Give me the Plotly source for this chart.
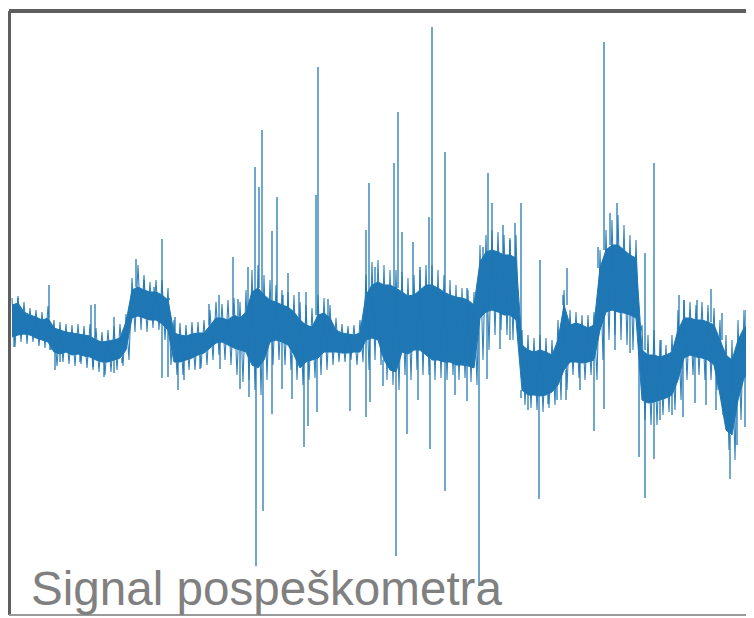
import plotly.graph_objects as go

# Accelerometer signal, arbitrary units; sample index n (core samples every 6)
core_step = 6
core_hi = [15, 17, 8, 5, 3, 0, 2, -8, -10, -12, -13, -14, -15, -16, -20, -22, -21, -20, -18, -2,
           30, 33, 30, 28, 28, 25, 20, -13, -15, -16, -14, -13, -13, -5, 2, 2, 0, 5, 2, 8,
           28, 32, 25, 20, 18, 15, 13, 8, 0, -5, -7, 5, 7, 2, -10, -13, -14, -15, -13, 25,
           35, 38, 35, 35, 32, 28, 24, 25, 30, 35, 35, 32, 28, 25, 23, 22, 20, 15, 58, 68,
           70, 68, 65, 65, 62, -25, -30, -32, -30, -32, -35, -20, 15, -5, -3, -5, -8, -5, 52, 70,
           75, 75, 70, 65, 62, -30, -35, -35, -37, -35, -32, -10, 2, 2, 0, 0, -2, -5, -20, -35,
           -40, -20, -8, -5]
core_lo = [-17, -15, -14, -15, -18, -20, -22, -32, -34, -32, -35, -34, -36, -37, -40, -42, -42, -40, -38, -30,
           2, 4, 2, 0, 0, -4, -10, -42, -42, -40, -38, -35, -33, -28, -23, -22, -25, -28, -30, -32,
           -45, -48, -40, -22, -20, -22, -25, -35, -48, -42, -40, -38, -32, -32, -32, -33, -33, -32, -32, -20,
           -18, -20, -40, -50, -52, -32, -34, -30, -30, -35, -40, -40, -42, -42, -45, -45, -46, -48, 2, 8,
           10, 8, 5, 5, 0, -70, -75, -75, -76, -75, -72, -65, -50, -42, -42, -43, -42, -40, -10, 8,
           10, 8, 7, 5, 2, -80, -83, -82, -80, -78, -75, -60, -38, -35, -37, -38, -40, -45, -75, -110,
           -115, -80, -58, -55]

# outer extent of the noise in each 6-sample bin
fringe_hi = [22, 24, 18, 12, 10, 8, 14, 0, -2, -4, -5, -4, -6, -4, -8, -12, -10, -6, -4, 6,
             42, 55, 45, 38, 40, 40, 32, 0, -3, -5, -2, -2, 0, 10, 18, 16, 20, 22, 18, 30,
             50, 55, 45, 40, 35, 30, 28, 25, 18, 15, 12, 25, 22, 15, 2, -4, -6, -5, 0, 45,
             58, 60, 55, 50, 50, 48, 42, 45, 50, 55, 55, 50, 45, 40, 35, 32, 30, 28, 75, 85,
             90, 88, 85, 82, 85, -10, -15, -18, -15, -18, -20, 0, 30, 10, 8, 5, 5, 8, 70, 90,
             100, 105, 95, 85, 80, -5, -15, -10, -20, -25, -15, 10, 20, 18, 15, 18, 15, 12, 0, -15,
             -20, 0, 10, 8]
fringe_lo = [-27, -22, -24, -22, -26, -28, -30, -46, -42, -44, -46, -44, -48, -50, -52, -55, -52, -50, -46, -40,
             -12, -10, -12, -8, -10, -20, -45, -55, -55, -50, -50, -48, -45, -40, -35, -40, -45, -55, -62, -60,
             -70, -75, -60, -45, -40, -45, -50, -60, -65, -60, -58, -55, -50, -45, -42, -42, -40, -45, -42, -50,
             -40, -45, -60, -65, -70, -55, -60, -50, -55, -55, -60, -58, -60, -55, -60, -58, -62, -65, -40, -30,
             -15, -10, -15, -20, -25, -85, -88, -90, -92, -88, -85, -80, -70, -55, -58, -60, -55, -60, -40, -20,
             -15, -20, -25, -30, -20, -100, -105, -105, -95, -92, -90, -80, -60, -55, -55, -60, -60, -70, -95, -130,
             -140, -100, -80, -75]

# isolated excursions (sample index, peak value)
up_n = [6, 37, 79, 83, 102, 124, 132, 142, 150, 157, 163, 197, 207, 221, 226, 236, 243, 247, 250, 260,
        265, 271, 276, 287, 294, 304, 306, 316, 354, 357, 363, 382, 386, 390, 401, 408, 417, 420, 433, 455,
        471, 476, 480, 491, 498, 503, 509, 528, 551, 555, 586, 592, 598, 605, 615, 624, 633, 642, 649, 667,
        672, 685, 699, 710, 734]
up_v = [22, 35, 15, 16, 3, 61, 40, 33, 81, 22, 3, 16, 25, 63, 21, 53, 153, 133, 190, 89,
        123, 25, 47, 28, 28, 125, 253, 21, 90, 137, 53, 157, 208, 88, 78, 53, 103, 293, 168, 32,
        73, 147, 117, 95, 80, 97, 117, 60, 25, 52, 73, 278, 107, 117, 70, 65, 67, 157, -20, 25,
        20, 20, 31, 7, 10]
down_n = [2, 38, 43, 48, 68, 81, 92, 102, 110, 150, 156, 166, 172, 188, 208, 228, 237, 244, 251, 260,
          270, 280, 292, 296, 305, 338, 354, 358, 371, 384, 395, 406, 418, 433, 443, 455, 467, 475, 488, 498,
          509, 516, 527, 536, 545, 554, 568, 582, 592, 603, 618, 627, 633, 642, 648, 660, 671, 683, 694, 704,
          718, 725, 733]
down_v = [-27, -30, -50, -42, -42, -47, -57, -53, -43, -58, -57, -70, -60, -49, -49, -69, -77, -246, -191, -94,
          -69, -79, -127, -106, -92, -91, -97, -82, -66, -236, -114, -80, -129, -171, -75, -81, -266, -59, -29, -20,
          -78, -90, -179, -84, -80, -80, -70, -111, -89, -30, -33, -137, -178, -139, -100, -95, -97, -83, -85, -90,
          -159, -125, -107]

label = "Signal pospeškometra"

core_n = [i * core_step for i in range(len(core_hi))]
blue = "#1f77b4"

fig = go.Figure()
# dense band of the signal
fig.add_trace(go.Scatter(
    x=core_n + core_n[::-1], y=core_hi + core_lo[::-1],
    fill="toself", fillcolor=blue, mode="lines",
    line=dict(color=blue, width=1), hoverinfo="skip", showlegend=False))

# noise: the signal swings between the bin's outer extents
zx, zy = [], []
for n, hi, lo in zip(core_n, fringe_hi, fringe_lo):
    zx += [n, n + core_step / 2]
    zy += [hi, lo]
fig.add_trace(go.Scatter(x=zx, y=zy, mode="lines",
                         line=dict(color=blue, width=1.1), opacity=0.9,
                         hoverinfo="skip", showlegend=False))

# isolated excursions
sx, sy = [], []
for n, v in zip(up_n, up_v):
    k = min(range(len(core_n)), key=lambda i: abs(core_n[i] - n))
    sx += [n, n, None]
    sy += [core_hi[k], v, None]
for n, v in zip(down_n, down_v):
    k = min(range(len(core_n)), key=lambda i: abs(core_n[i] - n))
    sx += [n, n, None]
    sy += [core_lo[k], v, None]
fig.add_trace(go.Scatter(x=sx, y=sy, mode="lines",
                         line=dict(color=blue, width=1.5), opacity=0.85,
                         hoverinfo="skip", showlegend=False))

fig.update_layout(
    width=746, height=610,
    margin=dict(l=1, r=0, t=3, b=3),
    paper_bgcolor="white", plot_bgcolor="white",
    xaxis=dict(range=[-3, 742], visible=False),
    yaxis=dict(range=[-295, 309], visible=False),
    shapes=[
        dict(type="line", xref="paper", yref="paper", x0=0, x1=1, y0=1, y1=1,
             line=dict(color="#5e5e5e", width=4)),
        dict(type="line", xref="paper", yref="paper", x0=0, x1=0, y0=0, y1=1,
             line=dict(color="#5e5e5e", width=4)),
        dict(type="line", xref="paper", yref="paper", x0=0, x1=1, y0=0, y1=0,
             line=dict(color="#9a9a9a", width=2)),
    ],
    annotations=[dict(
        text=label, xref="paper", yref="paper", x=0, y=0,
        xanchor="left", yanchor="bottom", xshift=20, yshift=-2,
        showarrow=False,
        font=dict(family="Liberation Sans, Arial, sans-serif", size=47.6, color="#808080"))],
)

fig.write_html("out.html", config={"displayModeBar": False})
